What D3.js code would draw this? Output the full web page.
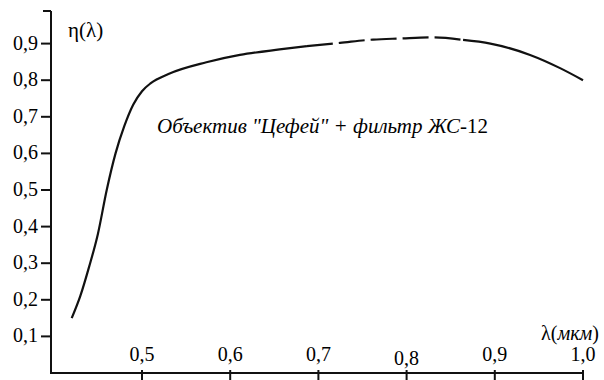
<!DOCTYPE html>
<html><head><meta charset="utf-8"><script src="https://cdn.jsdelivr.net/npm/d3@7"></script></head>
<body style="margin:0">
<script>
// wavelength (um) and transmittance
var lambda = [0.4203, 0.43, 0.44, 0.45, 0.46, 0.47, 0.48, 0.49, 0.50, 0.51, 0.53,
  0.573, 0.611, 0.656, 0.687, 0.7245, 0.762, 0.7925, 0.83, 0.864, 0.895, 0.94, 0.974, 1.0];
var eta = [0.15, 0.21, 0.29, 0.38, 0.50, 0.60, 0.675, 0.733, 0.77, 0.792, 0.817,
  0.849, 0.869, 0.884, 0.893, 0.902, 0.911, 0.914, 0.917, 0.91, 0.9, 0.869, 0.833, 0.80];
var xTicks = [0.5, 0.6, 0.7, 0.8, 0.9, 1.0];
var yTicks = [0.1, 0.2, 0.3, 0.4, 0.5, 0.6, 0.7, 0.8, 0.9];

var width = 604, height = 380;
var serif = "Times New Roman";

var svg = d3.select("body").append("svg").attr("width", width).attr("height", height)
  .attr("font-family", serif);

var x = d3.scaleLinear().domain([0.5, 1.0]).range([142, 583]);
var y = d3.scaleLinear().domain([0, 0.9]).range([373, 43.6]);
var fmt = function(d) { return d3.format(".1f")(d).replace(".", ","); };

var x0 = x.invert(51), yTop = y.invert(11);

// axes lines
svg.append("line")
  .attr("x1", x(x0)).attr("x2", x(x0))
  .attr("y1", y(yTop)).attr("y2", y(0))
  .attr("stroke", "#111").attr("stroke-width", 2);
svg.append("line")
  .attr("x1", x(x0) - 1).attr("x2", x(1.0))
  .attr("y1", y(0)).attr("y2", y(0))
  .attr("stroke", "#111").attr("stroke-width", 2);
// small cap at top of y axis
svg.append("line")
  .attr("x1", x(x0) - 8).attr("x2", x(x0))
  .attr("y1", y(yTop)).attr("y2", y(yTop))
  .attr("stroke", "#111").attr("stroke-width", 2);

// y ticks
svg.selectAll("line.yt").data(yTicks).enter().append("line")
  .attr("class", "yt")
  .attr("x1", x(x0) - 10).attr("x2", x(x0))
  .attr("y1", d => y(d)).attr("y2", d => y(d))
  .attr("stroke", "#111").attr("stroke-width", 2);
svg.selectAll("text.yl").data(yTicks).enter().append("text")
  .attr("class", "yl")
  .attr("x", 38).attr("y", d => y(d) + 6)
  .attr("text-anchor", "end")
  .attr("font-family", serif)
  .attr("font-size", 20)
  .text(fmt);

// x ticks
svg.selectAll("line.xt").data(xTicks).enter().append("line")
  .attr("class", "xt")
  .attr("x1", d => x(d)).attr("x2", d => x(d))
  .attr("y1", y(0) - 3).attr("y2", height)
  .attr("stroke", "#111").attr("stroke-width", 2);
svg.selectAll("text.xl").data(xTicks).enter().append("text")
  .attr("class", "xl")
  .attr("x", d => x(d)).attr("y", (d, i) => i == 3 ? 365 : 361)
  .attr("text-anchor", "middle")
  .attr("font-family", serif)
  .attr("font-size", 20)
  .text(fmt);

// axis titles
svg.append("text")
  .attr("x", 68).attr("y", 37)
  .attr("font-family", serif)
  .attr("font-size", 21)
  .text("η(λ)");
var xl = svg.append("text")
  .attr("x", 599).attr("y", 340)
  .attr("text-anchor", "end")
  .attr("font-family", serif)
  .attr("font-size", 20);
xl.append("tspan").text("λ(");
xl.append("tspan").attr("font-style", "italic").text("мкм");
xl.append("tspan").text(")");

// curve
var pts = lambda.map((d, i) => [d, eta[i]]);
var line = d3.line()
  .x(d => x(d[0])).y(d => y(d[1]))
  .curve(d3.curveMonotoneX);
svg.append("path")
  .datum(pts.filter(d => d[0] <= 0.69))
  .attr("d", line)
  .attr("fill", "none").attr("stroke", "#111").attr("stroke-width", 2.2);
svg.append("path")
  .datum(pts.filter(d => d[0] >= 0.687 && d[0] <= 0.864))
  .attr("d", line)
  .attr("fill", "none").attr("stroke", "#111").attr("stroke-width", 2.2)
  .attr("stroke-dasharray", "26,6");
svg.append("path")
  .datum(pts.filter(d => d[0] >= 0.864))
  .attr("d", line)
  .attr("fill", "none").attr("stroke", "#111").attr("stroke-width", 2.2);

// annotation
var note = svg.append("text")
  .attr("x", 157).attr("y", 133)
  .attr("font-family", serif)
  .attr("font-size", 21);
note.append("tspan").attr("font-style", "italic").text("Объектив \"Цефей\" + фильтр  ЖС");
note.append("tspan").text("-12");
</script></body></html>
